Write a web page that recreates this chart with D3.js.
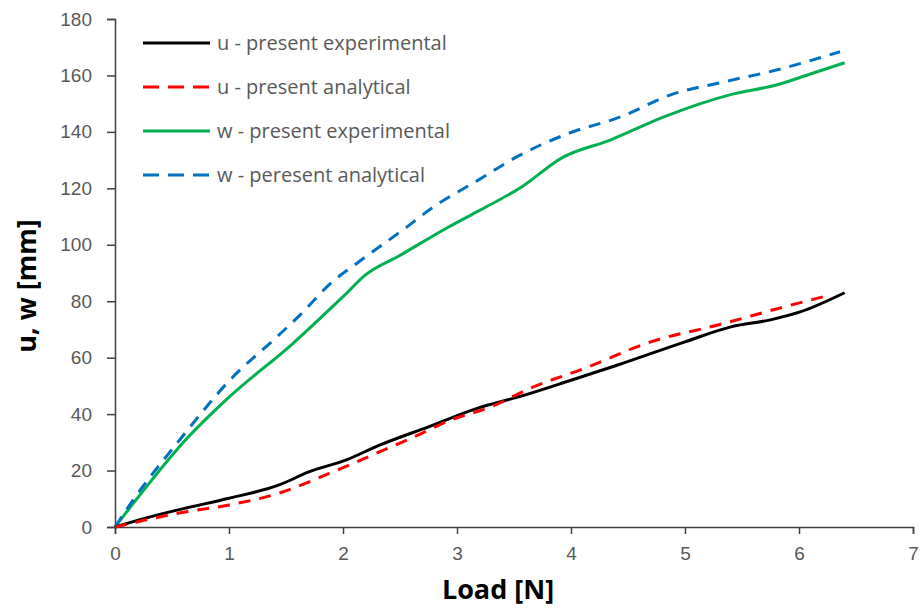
<!DOCTYPE html>
<html>
<head>
<meta charset="utf-8">
<script src="https://cdn.jsdelivr.net/npm/d3@7"></script>
<style>
  body { margin: 0; background: #fff; }
  svg { font-family: "Open Sans", "Noto Sans", sans-serif; }
  .tick text { fill: #595959; font-size: 19px; }
  .axis path, .axis line { stroke: #404040; stroke-width: 1.5; }
</style>
</head>
<body>
<svg id="chart"></svg>
<script>
// data (Load [N] vs displacement [mm])
const uExpLoad = [0, 0.3, 0.6, 1.0, 1.44, 1.7, 2.03, 2.32, 2.75, 3.19, 3.54, 4.0, 4.41, 5.0, 5.41, 5.75, 6.01, 6.4];
const uExpVal  = [0, 3.5, 6.5, 10.2, 14.9, 19.5, 23.8, 29, 35.5, 42.2, 46.1, 52, 57.4, 65.6, 71, 73.4, 76.2, 83];

const uAnaLoad = [0, 0.3, 0.6, 1.0, 1.44, 1.88, 2.32, 2.6, 2.95, 3.3, 3.65, 4.13, 4.7, 5.29, 5.87, 6.28];
const uAnaVal  = [0, 2.8, 5.2, 7.8, 12, 19, 26.6, 31.5, 38, 42.6, 49.3, 56.4, 65.6, 71.6, 78, 82.3];

const wExpLoad = [0, 0.31, 0.6, 1.0, 1.56, 2.0, 2.2, 2.49, 2.93, 3.19, 3.57, 3.92, 4.35, 4.82, 5.4, 5.81, 6.1, 6.4];
const wExpVal  = [0, 16, 30, 46, 65, 81.6, 89.4, 96, 106.4, 112, 120.6, 130.8, 137.2, 145.4, 153.2, 156.7, 160.5, 164.5];

const wAnaLoad = [0, 0.16, 0.57, 1.03, 1.41, 1.62, 1.91, 2.14, 2.55, 2.78, 3.19, 3.54, 3.98, 4.44, 4.88, 5.35, 5.81, 6.36];
const wAnaVal  = [0, 9.6, 31, 53, 67, 75, 87, 94, 106, 113, 123, 131.5, 139.5, 145.4, 153.2, 157.8, 162, 168.4];

const seriesNames = ["u - present experimental", "u - present analytical", "w - present experimental", "w - peresent analytical"];
const seriesColors = ["#000000", "#ff0000", "#00b050", "#0070c0"];
const seriesDashed = [false, true, false, true];
const xTicks = [0, 1, 2, 3, 4, 5, 6, 7];
const yTicks = [0, 20, 40, 60, 80, 100, 120, 140, 160, 180];

const width = 920, height = 608;
const margin = { left: 115, right: 7, top: 19, bottom: 81 };

const svg = d3.select("#chart").attr("width", width).attr("height", height);

const x = d3.scaleLinear().domain([0, 7]).range([margin.left, width - margin.right]);
const y = d3.scaleLinear().domain([0, 180]).range([height - margin.bottom, margin.top]);

// axes
svg.append("g")
    .attr("class", "axis")
    .attr("transform", `translate(0,${y(0)})`)
    .call(d3.axisBottom(x).tickValues(xTicks).tickSize(7).tickPadding(13).tickFormat(d3.format("d")));

svg.append("g")
    .attr("class", "axis")
    .attr("transform", `translate(${x(0)},0)`)
    .call(d3.axisLeft(y).tickValues(yTicks).tickSize(8).tickPadding(15).tickFormat(d3.format("d")));

// axis titles
svg.append("text")
    .attr("x", 498)
    .attr("y", 599)
    .attr("text-anchor", "middle")
    .style("font-size", "27px")
    .style("font-weight", "bold")
    .text("Load [N]");

svg.append("text")
    .attr("transform", "translate(36,286) rotate(-90)")
    .attr("text-anchor", "middle")
    .style("font-size", "27px")
    .style("font-weight", "bold")
    .text("u, w [mm]");

// curves
const line = d3.line()
    .x(d => x(d[0]))
    .y(d => y(d[1]))
    .curve(d3.curveMonotoneX);

const series = [
    d3.zip(uExpLoad, uExpVal),
    d3.zip(uAnaLoad, uAnaVal),
    d3.zip(wExpLoad, wExpVal),
    d3.zip(wAnaLoad, wAnaVal)
];

// w first, then u on top near the origin
[2, 3, 0, 1].forEach(i => {
    svg.append("path")
        .datum(series[i])
        .attr("d", line)
        .attr("fill", "none")
        .attr("stroke", seriesColors[i])
        .attr("stroke-width", 3)
        .attr("stroke-dasharray", seriesDashed[i] ? "12,9" : null);
});

// legend
const legend = svg.append("g").attr("transform", "translate(143,43)");
seriesNames.forEach((name, i) => {
    const row = legend.append("g").attr("transform", `translate(0,${i * 44})`);
    row.append("line")
        .attr("x1", 0).attr("x2", 67)
        .attr("stroke", seriesColors[i])
        .attr("stroke-width", 3)
        .attr("stroke-dasharray", seriesDashed[i] ? "16,9" : null);
    row.append("text")
        .attr("x", 74)
        .attr("dy", "0.35em")
        .style("font-size", "20px")
        .style("fill", "#595959")
        .text(name);
});
</script>
</body>
</html>
